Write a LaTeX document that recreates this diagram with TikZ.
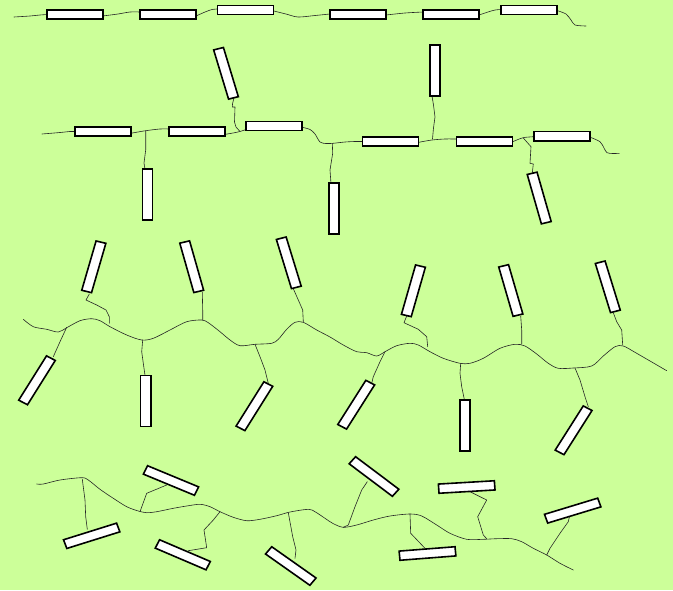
\documentclass[tikz,border=0pt]{standalone}
\usepackage{tikz}
\definecolor{bgreen}{RGB}{204,255,153}
\tikzset{
  chainline/.style={draw=black!85, line width=0.6pt, line join=round, line cap=round},
  mesostyle/.style={draw=black, fill=white, line width=1.6pt}
}
\newcommand\meso[3]{\draw[mesostyle,shift={(#1,#2)},xscale=1.1,rotate=#3] (-25.5,-4.6) rectangle (25.5,4.6);}
\begin{document}
\begin{tikzpicture}[x=1pt,y=-1pt]
\useasboundingbox (0,0) rectangle (673,590);
\fill[bgreen] (0,0) rectangle (673,590);

% ---------- row 1 ----------
\draw[chainline] plot[smooth,tension=0.5] coordinates {(14,17) (30,16) (40,15) (47,14.5)};
\draw[chainline] plot[smooth,tension=0.5] coordinates {(102.5,16) (118,14) (130,12) (140,12)};
\draw[chainline] plot[smooth,tension=0.5] coordinates {(196,16) (205,12) (212,9.5) (217.5,9)};
\draw[chainline] plot[smooth,tension=0.5] coordinates {(274,11) (286,14) (298,17) (315,15.5) (330,14)};
\draw[chainline] plot[smooth,tension=0.5] coordinates {(386,15) (405,13) (423,12)};
\draw[chainline] plot[smooth,tension=0.5] coordinates {(479,15) (488,12) (495,10) (501,9.5)};
\draw[chainline] plot[smooth,tension=0.5] coordinates {(557,10.5) (566,14) (571,20) (575,25) (586,26)};
\meso{75}{14.5}{0}
\meso{168}{14.5}{0}
\meso{245.5}{10}{0}
\meso{358}{14.5}{0}
\meso{451}{14.5}{0}
\meso{529}{10}{0}

% ---------- row 2 ----------
\draw[chainline] plot[smooth,tension=0.5] coordinates {(42,134) (60,132.5) (70,131.5) (75,131.5)};
\draw[chainline] plot[smooth,tension=0.5] coordinates {(130.7,133.3) (145.7,130.7) (160,129) (169.3,129)};
\draw[chainline] plot[smooth,tension=0.5] coordinates {(224.3,134.5) (233,133) (240,131.5) (246,129.5)};
\draw[chainline] plot[smooth,tension=0.5] coordinates {(302.3,127.3) (310,129.5) (315,134) (320,142) (326,143.5) (333,143.3) (345,142) (355,141.5) (362.3,141.5)};
\draw[chainline] plot[smooth,tension=0.5] coordinates {(418.7,142.3) (432,140) (445,139) (456.3,139)};
\draw[chainline] plot[smooth,tension=0.5] coordinates {(512.7,141.7) (518,139.5) (524,137.5) (533.7,136.7)};
\draw[chainline] plot[smooth,tension=0.5] coordinates {(590.3,137.3) (600,141.7) (604,148) (607,152.7) (613,153.5) (619.3,153.3)};
% side chains row 2
\draw[chainline] (145.7,131) -- (145.7,150) -- (144,163) -- (145,169.3);
\draw[chainline] (233.8,98.5) -- (232.5,104) -- (232.3,107) -- (235,107) -- (234.5,122) -- (236,127) -- (240,131.5);
\draw[chainline] (332.3,143.3) -- (332.7,153.3) -- (330,170) -- (331,183.5);
\draw[chainline] (432,96) -- (433.5,105) -- (435,117) -- (433.5,128) -- (432.5,139);
\draw[chainline] (523.3,138) -- (531,146.7) -- (530,163.3) -- (533.3,164) -- (532.3,173);
\meso{226}{73.3}{-74.6}
\meso{435}{70.5}{90}
\meso{103}{131.5}{0}
\meso{197}{131.5}{0}
\meso{274}{126}{0}
\meso{390.5}{141.3}{0}
\meso{484.5}{141.3}{0}
\meso{562}{136.2}{0}
\meso{147.5}{194.7}{90}
\meso{334}{208.3}{90}
\meso{539.2}{198}{-75.4}

% ---------- row 3 ----------
\draw[chainline] plot[smooth,tension=0.5] coordinates {(23.3,319.3) (33.3,326.7) (46.7,329.3) (58.3,332) (66.7,327.7) (80,320.7) (91.7,318.7) (100,320.7) (110,326.7) (126.7,335) (141.7,340) (153.3,338.3) (170,330) (186.7,321.7) (201.7,320) (208.3,322.7) (220,331.7) (230,340) (240,345.7) (255,344.3) (271.7,343.3) (278.3,339.3) (286.7,329.3) (295,322.3) (303.3,322.3) (316.7,330) (330,337) (343.3,345) (356.7,351.7) (366.7,352.7) (376.7,356) (385,351.7) (396.7,345.7) (410,343.3) (418.3,345) (430,351.7) (443.3,358.3) (460,363.3) (470,363.3) (483.3,358.3) (500,348.3) (515,344.3) (525,346) (536.7,354) (548.3,363.3) (558.3,368.3) (573.3,368) (591.7,366) (603.3,356) (615,346.7) (623.3,346) (636.7,353.3) (666.7,370.7)};
% side chains row 3
\draw[chainline] (89.3,294) -- (86,300) -- (96.7,305) -- (106,310) -- (109.3,316.7) -- (109.3,323.3);
\draw[chainline] (66.7,327.3) -- (60,341.7) -- (53.3,356.7);
\draw[chainline] (202.3,292.3) -- (202.7,310) -- (202.7,320);
\draw[chainline] (142.7,340) -- (141.7,351.7) -- (143.3,363.3) -- (145,375.3);
\draw[chainline] (293.3,288.7) -- (298.3,300) -- (302.7,310) -- (303.3,321.7);
\draw[chainline] (255,344.3) -- (260,356.7) -- (265,370) -- (268.3,383.3);
\draw[chainline] (406.7,316) -- (404,322.7) -- (418.3,329.3) -- (426.7,336.7) -- (427.7,346.7);
\draw[chainline] (385,351.7) -- (380,361.7) -- (373.3,376.7) -- (371.7,383.3);
\draw[chainline] (520.7,316) -- (521.7,330) -- (521.7,344);
\draw[chainline] (460.7,363.3) -- (460,373.3) -- (461.7,386.7) -- (464.3,399.3);
\draw[chainline] (613.3,312.7) -- (616.7,321.7) -- (621.7,330) -- (622.7,345);
\draw[chainline] (575,368) -- (580,380) -- (585,396.7) -- (588.3,406.7);
\meso{93.8}{266.8}{75.2}
\meso{191.7}{266.7}{-75.5}
\meso{288.8}{262.8}{-74.4}
\meso{413.4}{290.8}{75.4}
\meso{510.8}{290.5}{-75.2}
\meso{607.8}{286.8}{-74.3}
\meso{37}{380.3}{60.3}
\meso{145.7}{401}{90}
\meso{254.4}{406.2}{60.3}
\meso{356.2}{404.7}{60}
\meso{465}{425.3}{90}
\meso{573.6}{430.3}{60}

% ---------- row 4 ----------
\draw[chainline] plot[smooth,tension=0.5] coordinates {(36.7,484) (43.3,484) (60,480) (81.7,477.7) (88.3,480) (100,489.3) (113.3,498.3) (126.7,506.7) (138.3,511) (146.7,512.7) (156.7,511.7) (173.3,508.3) (186.7,506) (200,504.3) (210,506.7) (220,511.7) (233.3,517.3) (246.7,520.7) (260,519.3) (276.7,515.7) (290,512) (308.3,509.3) (315,511.7) (325,518.3) (333,523.5) (343.3,527.3) (356.7,525) (373.3,520) (390,516) (410,514) (421.7,516) (436.7,525) (450,533.3) (466.7,539.3) (483.3,539.3) (496.7,538.7) (511.7,538.7) (521.7,541.7) (533.3,548.3) (546.7,555) (560,563.3) (573.3,570)};
% side chains row 4
\draw[chainline] (82.3,479.3) -- (85,500) -- (85.7,516.7) -- (87.3,529.3);
\draw[chainline] (140,511.7) -- (146.7,493.3) -- (166.7,485);
\draw[chainline] (220,511.7) -- (213.3,520) -- (204,530) -- (206.7,547.7) -- (188.3,550.7);
\draw[chainline] (288.3,512.7) -- (292.7,536.7) -- (296,550) -- (295,558.3);
\draw[chainline] (343.3,527.3) -- (348.3,525) -- (355,506.7) -- (361.7,490) -- (367.3,481.7);
\draw[chainline] (486.7,538.7) -- (483.3,535) -- (477.7,516.7) -- (486.7,500) -- (470,491.7);
\draw[chainline] (410,514) -- (410.7,533.3) -- (425,548.3);
\draw[chainline] (546.7,555) -- (550,548.3) -- (560,533.3) -- (568.3,521.7) -- (569.3,517.3);
\meso{91.7}{535.8}{19}
\meso{171}{480.5}{-24.5}
\meso{182.8}{554.8}{-25.2}
\meso{290.8}{566}{-37.8}
\meso{374}{476.5}{-39.6}
\meso{466.7}{487}{3.7}
\meso{427.5}{553.5}{4.9}
\meso{572.7}{510.6}{18.5}
\end{tikzpicture}
\end{document}
